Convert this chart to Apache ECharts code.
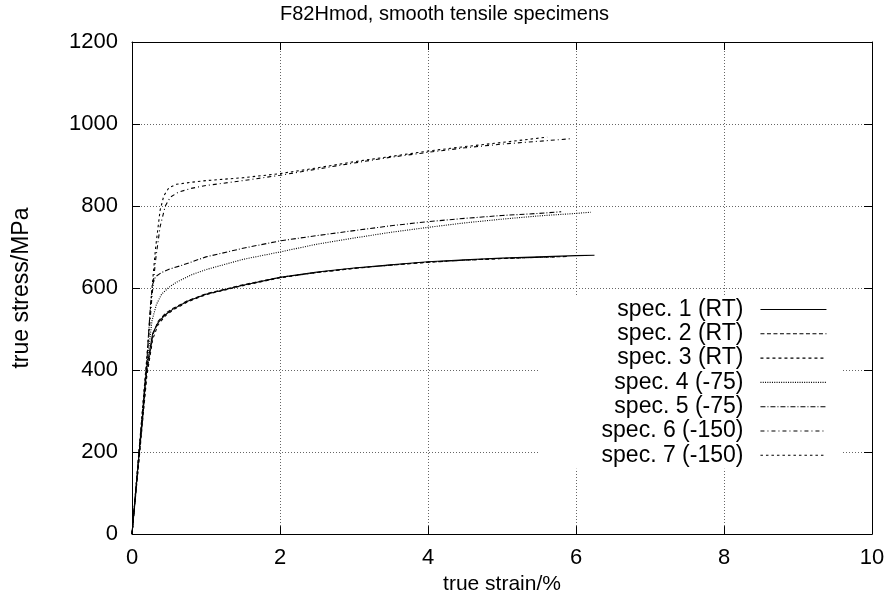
<!DOCTYPE html>
<html>
<head>
<meta charset="utf-8">
<script src="https://cdn.jsdelivr.net/npm/echarts@6/dist/echarts.min.js"></script>
<style>html,body{margin:0;padding:0;background:#fff}#c{width:889px;height:600px}</style>
</head>
<body>
<div id="c"></div>
<script>
// [true strain %, true stress MPa]
var spec1 = [[0,0],[0.1,205],[0.2,405],[0.28,490],[0.35,515],[0.45,535],[0.55,548],[0.75,568],[1.0,585],[1.5,607],[2.0,626],[2.5,639],[3.0,649],[3.5,657],[4.0,664],[4.5,669],[5.0,673],[5.5,676],[6.0,679],[6.25,680]];
var spec2 = [[0,0],[0.1,195],[0.2,395],[0.28,485],[0.35,518],[0.45,538],[0.55,550],[0.75,569],[1.0,586],[1.5,608],[2.0,626],[2.5,638],[3.0,648],[3.5,656],[4.0,663],[4.5,668],[5.0,672],[5.5,675],[5.9,677]];
var spec3 = [[0,0],[0.1,190],[0.2,385],[0.28,475],[0.35,510],[0.45,532],[0.55,546],[0.75,566],[1.0,584],[1.5,606],[2.0,625],[2.5,638],[3.0,648],[3.5,656],[4.0,663],[4.5,668],[5.0,672],[5.5,675],[5.75,676]];
var spec4 = [[0,0],[0.1,205],[0.2,410],[0.27,520],[0.33,560],[0.4,585],[0.5,602],[0.6,614],[0.8,632],[1.0,645],[1.5,670],[2.0,688],[2.5,707],[3.0,722],[3.5,736],[4.0,748],[4.5,759],[5.0,768],[5.5,776],[6.0,782],[6.2,785]];
var spec5 = [[0,0],[0.1,210],[0.2,420],[0.25,560],[0.28,610],[0.32,628],[0.4,638],[0.5,646],[0.65,654],[1.0,676],[1.5,697],[2.0,715],[2.5,728],[3.0,740],[3.5,752],[4.0,762],[4.5,770],[5.0,777],[5.5,782],[5.8,786]];
var spec6 = [[0,0],[0.1,210],[0.2,420],[0.27,580],[0.32,670],[0.38,750],[0.45,800],[0.52,822],[0.63,834],[0.8,843],[1.0,850],[1.5,862],[2.0,875],[2.5,890],[3.0,905],[3.5,919],[4.0,931],[4.5,942],[5.0,951],[5.5,958],[5.92,964]];
var spec7 = [[0,0],[0.1,215],[0.2,430],[0.27,600],[0.32,700],[0.38,790],[0.43,825],[0.5,845],[0.6,853],[0.8,858],[1.0,862],[1.5,869],[2.0,879],[2.5,893],[3.0,908],[3.5,921],[4.0,934],[4.5,945],[5.0,955],[5.61,968]];

var seriesNames = ['spec. 1 (RT)','spec. 2 (RT)','spec. 3 (RT)','spec. 4 (-75)','spec. 5 (-75)','spec. 6 (-150)','spec. 7 (-150)'];
var seriesData = [spec1, spec2, spec3, spec4, spec5, spec6, spec7];
var dashTypes = ['solid',[4,2.5],[3,3],[1,1.3],[5,2,1,2],[4,3,1,3],[2.5,3]];

var FONT = '"Liberation Sans", Arial, Helvetica, sans-serif';
var chart = echarts.init(document.getElementById('c'), null, {renderer:'canvas'});

function plainFmt(v){ return String(v); }

function xAx(pos, main){
  return {
    type:'value', position:pos, min:0, max:10, interval:2,
    axisLine:{show:true, onZero:false, lineStyle:{color:'#000', width:1}},
    axisTick:{show:true, inside:true, length:8, lineStyle:{color:'#000'}},
    axisLabel:{show:main, color:'#000', fontSize:22, fontFamily:FONT, margin:13, formatter:plainFmt},
    splitLine:{show:main, lineStyle:{color:'#666', type:[1,2], width:1}},
    name: main ? 'true strain/%' : '', nameLocation:'middle', nameGap:31,
    nameTextStyle:{color:'#000', fontSize:21, fontFamily:FONT}
  };
}
function yAx(pos, main){
  return {
    type:'value', position:pos, min:0, max:1200, interval:200,
    axisLine:{show:true, onZero:false, lineStyle:{color:'#000', width:1}},
    axisTick:{show:true, inside:true, length:8, lineStyle:{color:'#000'}},
    axisLabel:{show:main, color:'#000', fontSize:22, fontFamily:FONT, margin:14, formatter:plainFmt},
    splitLine:{show:main, lineStyle:{color:'#666', type:[1,2], width:1}},
    name: main ? 'true stress/MPa' : '', nameLocation:'middle', nameGap:99,
    nameTextStyle:{color:'#000', fontSize:23, fontFamily:FONT}
  };
}

var series = seriesNames.map(function(n, i){
  return {
    name:n, type:'line', data:seriesData[i], xAxisIndex:0, yAxisIndex:0,
    symbol:'none', showSymbol:false, smooth:false, animation:false,
    lineStyle:{color:'#000', width:1.1, type:dashTypes[i]},
    itemStyle:{color:'#000'}, z:3
  };
});

chart.setOption({
  backgroundColor:'#fff',
  animation:false,
  title:{text:'F82Hmod, smooth tensile specimens', left:'center', top:-1,
    textStyle:{color:'#000', fontSize:20, fontWeight:'normal', fontFamily:FONT}},
  grid:{left:132, right:17, top:42, bottom:64, containLabel:false},
  legend:{
    orient:'vertical', right:47, top:297, align:'right',
    backgroundColor:'#fff', padding:[1,15,2,62],
    itemWidth:66, itemHeight:12, itemGap:1.3,
    itemStyle:{opacity:0},
    lineStyle:{width:1.1},
    textStyle:{color:'#000', fontSize:23, fontFamily:FONT, padding:[0,12,0,0]},
    data:seriesNames, z:10
  },
  xAxis:[xAx('bottom', true), xAx('top', false)],
  yAxis:[yAx('left', true), yAx('right', false)],
  series:series
});
</script>
</body>
</html>
